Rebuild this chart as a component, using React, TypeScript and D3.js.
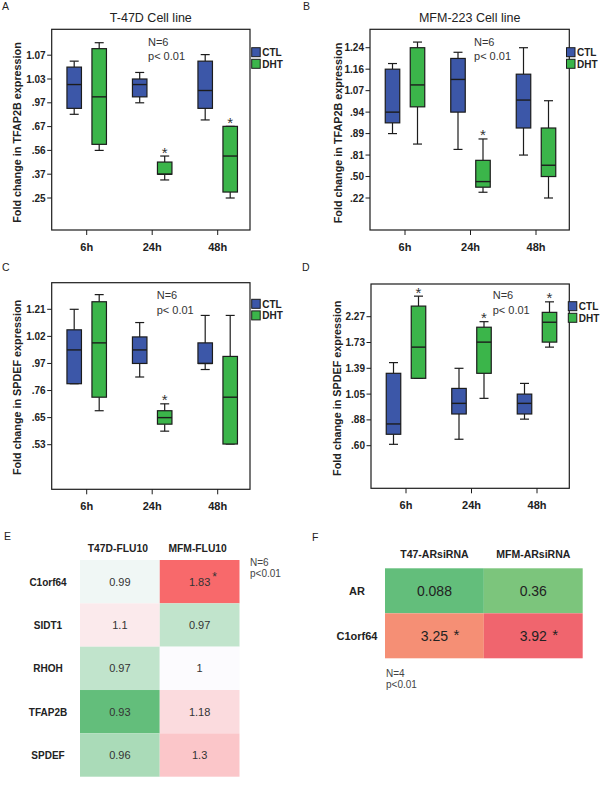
import React from "react";
import * as d3 from "d3";

const timePoints = ["6h", "24h", "48h"];
const groups = ["CTL", "DHT"];

// box stats per time point: [min, q1, median, q3, max]
// A: T-47D, TFAP2B
const aTicks = [0.25, 0.37, 0.56, 0.67, 0.97, 1.03, 1.07];
const aTickLabels = [".25", ".37", ".56", ".67", ".97", "1.03", "1.07"];
const aCTL = [[0.825, 0.9, 1.016, 1.05, 1.06], [0.97, 0.985, 1.016, 1.03, 1.041], [0.754, 0.9, 1.001, 1.06, 1.071]];
const aDHT = [[0.56, 0.588, 0.985, 1.081, 1.091], [0.341, 0.37, 0.37, 0.467, 0.515], [0.25, 0.28, 0.515, 0.673, 0.673]];
const aStars = [false, true, true];

// B: MFM-223, TFAP2B
const bTicks = [0.22, 0.5, 0.81, 0.89, 0.94, 1.07, 1.16, 1.24];
const bTickLabels = [".22", ".50", ".81", ".89", ".94", "1.07", "1.16", "1.24"];
const bCTL = [[0.89, 0.915, 0.94, 1.16, 1.181], [0.831, 0.94, 1.117, 1.2, 1.223], [0.81, 0.903, 1.013, 1.139, 1.24]];
const bDHT = [[0.851, 0.972, 1.094, 1.24, 1.261], [0.295, 0.361, 0.434, 0.734, 0.87], [0.22, 0.5, 0.663, 0.903, 1.009]];
const bStars = [false, true, false];

// C: T-47D, SPDEF
const cTicks = [0.53, 0.65, 0.76, 0.97, 1.02, 1.21];
const cTickLabels = [".53", ".65", ".76", ".97", "1.02", "1.21"];
const cCTL = [[0.813, 0.813, 0.995, 1.066, 1.21], [0.865, 0.97, 0.995, 1.019, 1.117], [0.923, 0.97, 0.97, 1.008, 1.167]];
const cDHT = [[0.678, 0.733, 1.008, 1.263, 1.313], [0.59, 0.621, 0.65, 0.678, 0.706], [0.533, 0.533, 0.733, 0.983, 1.167]];
const cStars = [false, true, false];

// D: MFM-223, SPDEF
const dTicks = [0.6, 0.88, 1.05, 1.39, 1.73, 2.27];
const dTickLabels = [".60", ".88", "1.05", "1.39", "1.73", "2.27"];
const dCTL = [[0.615, 0.724, 0.836, 1.324, 1.465], [0.67, 0.919, 0.989, 1.125, 1.39], [0.885, 0.919, 0.989, 1.05, 1.191]];
const dDHT = [[1.258, 1.258, 1.669, 2.492, 2.7], [1.022, 1.324, 1.738, 2.05, 2.166], [1.669, 1.738, 2.154, 2.361, 2.581]];
const dStars = [true, true, true];

// E heatmap
const eGenes = ["C1orf64", "SIDT1", "RHOH", "TFAP2B", "SPDEF"];
const eLines = ["T47D-FLU10", "MFM-FLU10"];
const eT47D = [0.99, 1.1, 0.97, 0.93, 0.96];
const eMFM = [1.83, 0.97, 1, 1.18, 1.3];
const eSig = [[false, true], [false, false], [false, false], [false, false], [false, false]];

// F heatmap
const fGenes = ["AR", "C1orf64"];
const fLines = ["T47-ARsiRNA", "MFM-ARsiRNA"];
const fT47 = [0.088, 3.25];
const fMFM = [0.36, 3.92];
const fSig = [[false, false], [true, true]];

const SANS = "'Liberation Sans', Arial, sans-serif";
const BLUE = "#3c57a8";
const GREEN = "#3bb54a";
const INK = "#1c1c1c";

function BoxPanel({ cfg }: { cfg: any }) {
  const { left, right, top, bottom, ticks, tickLabels, tickLow, tickStep, ctl, dht, stars } = cfg;
  const y = d3.scaleLinear().domain(ticks).range(ticks.map((_: number, i: number) => tickLow - i * tickStep));
  const x = d3.scalePoint().domain(timePoints).range([left + 35, left + 166]);
  const g = d3.scaleBand().domain(groups).range([-25, 25]);
  const boxW = 14.5;
  const capW = 9;
  const series = [ctl, dht];
  const colors = [BLUE, GREEN];

  return (
    <g>
      <text x={cfg.letterX} y={cfg.letterY} fontFamily={SANS} fontSize={10.5} fill="#222">{cfg.letter}</text>
      {cfg.title && (
        <text x={(left + right) / 2} y={21.5} textAnchor="middle" fontFamily={SANS} fontSize={12.5} fill="#222">{cfg.title}</text>
      )}
      <rect x={left} y={top} width={right - left} height={bottom - top} fill="none" stroke={INK} strokeWidth={1.2} />
      {ticks.map((t: number, i: number) => (
        <g key={"yt" + i}>
          <line x1={left - 4.5} x2={left} y1={y(t)} y2={y(t)} stroke={INK} strokeWidth={1} />
          <text x={left - 6} y={y(t) + 3.5} textAnchor="end" fontFamily={SANS} fontWeight="bold" fontSize={10} fill="#222">{tickLabels[i]}</text>
        </g>
      ))}
      {timePoints.map((tp) => (
        <g key={"xt" + tp}>
          <line x1={x(tp)} x2={x(tp)} y1={bottom} y2={bottom + 5} stroke={INK} strokeWidth={1} />
          <text x={x(tp)} y={bottom + 21} textAnchor="middle" fontFamily={SANS} fontWeight="bold" fontSize={11} fill="#222">{tp}</text>
        </g>
      ))}
      <text transform={`translate(${cfg.yLabelX},${cfg.yLabelY}) rotate(-90)`} textAnchor="middle" fontFamily={SANS} fontWeight="bold" fontSize={10.8} fill="#222">{cfg.yLabel}</text>
      {series.map((s: number[][], si: number) =>
        timePoints.map((tp, ti) => {
          const [mn, q1, md, q3, mx] = s[ti];
          const cx = (x(tp) as number) + (g(groups[si]) as number) + g.bandwidth() / 2;
          return (
            <g key={"b" + si + ti}>
              <line x1={cx} x2={cx} y1={y(mx)} y2={y(q3)} stroke={INK} strokeWidth={1.2} />
              <line x1={cx} x2={cx} y1={y(q1)} y2={y(mn)} stroke={INK} strokeWidth={1.2} />
              <line x1={cx - capW / 2} x2={cx + capW / 2} y1={y(mx)} y2={y(mx)} stroke={INK} strokeWidth={1.2} />
              <line x1={cx - capW / 2} x2={cx + capW / 2} y1={y(mn)} y2={y(mn)} stroke={INK} strokeWidth={1.2} />
              <rect x={cx - boxW / 2} y={y(q3)} width={boxW} height={Math.max(0.5, y(q1) - y(q3))} fill={colors[si]} stroke={INK} strokeWidth={1.2} />
              <line x1={cx - boxW / 2} x2={cx + boxW / 2} y1={y(md)} y2={y(md)} stroke={INK} strokeWidth={1.4} />
              {si === 1 && stars[ti] && (
                <text x={cx} y={y(mx) + 1.5} textAnchor="middle" fontFamily={SANS} fontSize={15} fill="#333">*</text>
              )}
            </g>
          );
        })
      )}
      <text x={cfg.nX} y={cfg.nY} fontFamily={SANS} fontSize={11} fill="#333">N=6</text>
      <text x={cfg.nX} y={cfg.nY + 14.5} fontFamily={SANS} fontSize={11} fill="#333">p{"< "}0.01</text>
      {groups.map((gr, i) => (
        <g key={"lg" + gr}>
          <rect x={cfg.legX} y={cfg.legY + i * 11.6} width={8.5} height={9} fill={colors[i]} stroke={INK} strokeWidth={1} />
          <text x={cfg.legX + 10.5} y={cfg.legY + i * 11.6 + 8.5} fontFamily={SANS} fontWeight="bold" fontSize={10} fill="#222">{gr}</text>
        </g>
      ))}
    </g>
  );
}

function HeatE() {
  const color = d3.scaleLinear<string>().domain([0.93, 0.995, 1.83]).range(["#63be7b", "#fcfcff", "#f8696b"]);
  const cols = d3.scaleBand().domain(eLines).range([80, 239.5]);
  const rows = d3.scaleBand().domain(eGenes).range([560, 776.7]);
  const vals = [eT47D, eMFM];
  return (
    <g>
      <text x={4} y={540} fontFamily={SANS} fontSize={10.5} fill="#222">E</text>
      {eLines.map((l) => (
        <text key={l} x={(cols(l) as number) + cols.bandwidth() / 2 - 2} y={552} textAnchor="middle" fontFamily={SANS} fontWeight="bold" fontSize={10.3} fill="#222">{l}</text>
      ))}
      {eGenes.map((gene, ri) => (
        <g key={gene}>
          <text x={48} y={(rows(gene) as number) + rows.bandwidth() / 2 + 4} textAnchor="middle" fontFamily={SANS} fontWeight="bold" fontSize={10} fill="#222">{gene}</text>
          {eLines.map((l, ci) => {
            const v = vals[ci][ri];
            const cx = (cols(l) as number) + cols.bandwidth() / 2;
            const cy = (rows(gene) as number) + rows.bandwidth() / 2;
            return (
              <g key={l}>
                <rect x={cols(l)} y={rows(gene)} width={cols.bandwidth()} height={rows.bandwidth()} fill={color(v)} />
                <text x={cx} y={cy + 4} textAnchor="middle" fontFamily={SANS} fontSize={11} fill="#333">{String(v)}</text>
                {eSig[ri][ci] && <text x={cx + 15} y={cy - 1} textAnchor="middle" fontFamily={SANS} fontSize={12} fill="#333">*</text>}
              </g>
            );
          })}
        </g>
      ))}
      <text x={250} y={566} fontFamily={SANS} fontSize={10} fill="#444">N=6</text>
      <text x={250} y={577} fontFamily={SANS} fontSize={10} fill="#444">p{"<"}0.01</text>
    </g>
  );
}

function HeatF() {
  const color = d3.scaleLinear<string>().domain([0.088, 1.805, 3.92]).range(["#63be7b", "#ffeb84", "#f0656e"]);
  const cols = d3.scaleBand().domain(fLines).range([385, 582.7]);
  const rows = d3.scaleBand().domain(fGenes).range([568.3, 658.3]);
  const vals = [fT47, fMFM];
  return (
    <g>
      <text x={312} y={541} fontFamily={SANS} fontSize={10.5} fill="#222">F</text>
      {fLines.map((l) => (
        <text key={l} x={(cols(l) as number) + cols.bandwidth() / 2} y={558} textAnchor="middle" fontFamily={SANS} fontWeight="bold" fontSize={10.5} fill="#222">{l}</text>
      ))}
      {fGenes.map((gene, ri) => (
        <g key={gene}>
          <text x={357} y={(rows(gene) as number) + rows.bandwidth() / 2 + 4} textAnchor="middle" fontFamily={SANS} fontWeight="bold" fontSize={11} fill="#222">{gene}</text>
          {fLines.map((l, ci) => {
            const v = vals[ci][ri];
            const cx = (cols(l) as number) + cols.bandwidth() / 2;
            const cy = (rows(gene) as number) + rows.bandwidth() / 2;
            return (
              <g key={l}>
                <rect x={cols(l)} y={rows(gene)} width={cols.bandwidth()} height={rows.bandwidth()} fill={color(v)} />
                <text x={cx} y={cy + 5} textAnchor="middle" fontFamily={SANS} fontSize={14} fill="#222">{String(v)}</text>
                {fSig[ri][ci] && <text x={cx + 22} y={cy + 4} textAnchor="middle" fontFamily={SANS} fontSize={15} fill="#222">*</text>}
              </g>
            );
          })}
        </g>
      ))}
      <text x={386} y={677} fontFamily={SANS} fontSize={10} fill="#444">N=4</text>
      <text x={386} y={688} fontFamily={SANS} fontSize={10} fill="#444">p{"<"}0.01</text>
    </g>
  );
}

const panels = [
  {
    letter: "A", letterX: 2, letterY: 10, title: "T-47D Cell line",
    left: 51.7, right: 250, top: 29.3, bottom: 230,
    ticks: aTicks, tickLabels: aTickLabels, tickLow: 198, tickStep: 23.8,
    ctl: aCTL, dht: aDHT, stars: aStars,
    yLabel: "Fold change in TFAP2B expression", yLabelX: 20.5, yLabelY: 132.5,
    nX: 148, nY: 45.5, legX: 251.7, legY: 47.7,
  },
  {
    letter: "B", letterX: 303, letterY: 10, title: "MFM-223 Cell line",
    left: 370, right: 569.3, top: 29.3, bottom: 230,
    ticks: bTicks, tickLabels: bTickLabels, tickLow: 198, tickStep: 21.47,
    ctl: bCTL, dht: bDHT, stars: bStars,
    yLabel: "Fold change in TFAP2B expression", yLabelX: 342, yLabelY: 133,
    nX: 474, nY: 45.5, legX: 566.5, legY: 47.7,
  },
  {
    letter: "C", letterX: 2, letterY: 271, title: "",
    left: 51.7, right: 250, top: 282.7, bottom: 489.3,
    ticks: cTicks, tickLabels: cTickLabels, tickLow: 444.7, tickStep: 27.08,
    ctl: cCTL, dht: cDHT, stars: cStars,
    yLabel: "Fold change in SPDEF expression", yLabelX: 20.5, yLabelY: 387.5,
    nX: 156.7, nY: 299, legX: 251.7, legY: 299.3,
  },
  {
    letter: "D", letterX: 302, letterY: 271, title: "",
    left: 371, right: 569.3, top: 284, bottom: 488.3,
    ticks: dTicks, tickLabels: dTickLabels, tickLow: 445.7, tickStep: 25.8,
    ctl: dCTL, dht: dDHT, stars: dStars,
    yLabel: "Fold change in SPDEF expression", yLabelX: 340.5, yLabelY: 388.3,
    nX: 492.7, nY: 299, legX: 568.3, legY: 301.7,
  },
];

export default function App() {
  return (
    <svg width={600} height={785} style={{ position: "absolute", left: 0, top: 0, background: "#fff" }}>
      <rect x={0} y={0} width={600} height={785} fill="#fff" />
      {panels.map((p) => (
        <BoxPanel key={p.letter} cfg={p} />
      ))}
      <HeatE />
      <HeatF />
    </svg>
  );
}
